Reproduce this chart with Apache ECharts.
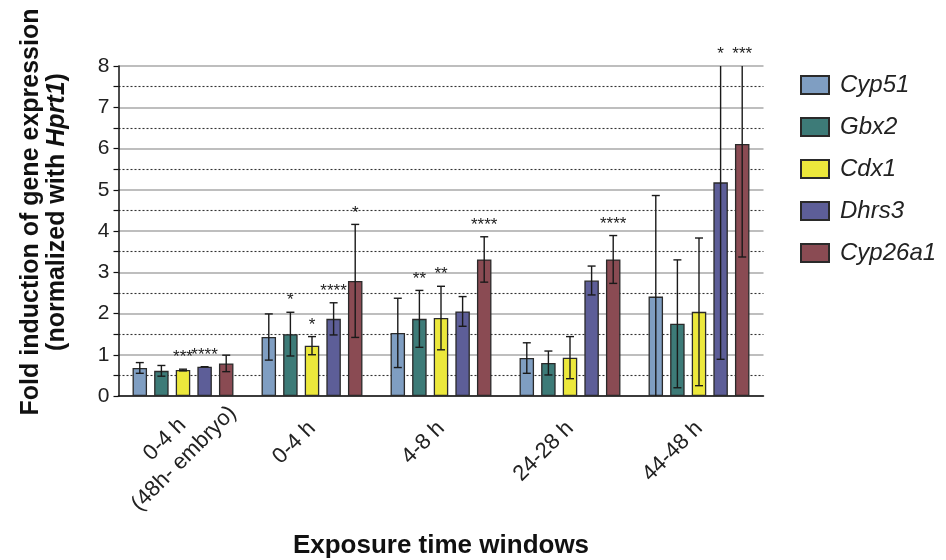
<!DOCTYPE html>
<html><head><meta charset="utf-8">
<script src="https://cdn.jsdelivr.net/npm/echarts@6/dist/echarts.min.js"></script>
<style>html,body{margin:0;padding:0;background:#fff}#c{width:946px;height:560px}</style>
</head><body><div id="c"></div>
<script>
var categories = ['0-4 h\n(48h- embryo)', '0-4 h', '4-8 h', '24-28 h', '44-48 h'];
var genes = ['Cyp51', 'Gbx2', 'Cdx1', 'Dhrs3', 'Cyp26a1'];
var yTicks = [0, 1, 2, 3, 4, 5, 6, 7, 8];

var cyp51Mean   = [0.68, 1.43, 1.53, 0.92, 2.41];
var cyp51Err    = [0.13, 0.56, 0.84, 0.37, 2.45];
var cyp51Stars  = ['', '', '', '', ''];

var gbx2Mean    = [0.61, 1.50, 1.87, 0.80, 1.75];
var gbx2Err     = [0.13, 0.53, 0.69, 0.29, 1.55];
var gbx2Stars   = ['', '*', '**', '', ''];

var cdx1Mean    = [0.63, 1.22, 1.89, 0.93, 2.04];
var cdx1Err     = [0.02, 0.22, 0.77, 0.51, 1.79];
var cdx1Stars   = ['***', '*', '**', '', ''];

var dhrs3Mean   = [0.71, 1.87, 2.05, 2.80, 5.18];
var dhrs3Err    = [0.00, 0.39, 0.36, 0.35, 4.29];
var dhrs3Stars  = ['****', '****', '', '', '*'];

var cyp26a1Mean = [0.79, 2.79, 3.31, 3.31, 6.11];
var cyp26a1Err  = [0.20, 1.37, 0.55, 0.58, 2.74];
var cyp26a1Stars= ['', '*', '****', '****', '***'];

var means = [cyp51Mean, gbx2Mean, cdx1Mean, dhrs3Mean, cyp26a1Mean];
var errs  = [cyp51Err, gbx2Err, cdx1Err, dhrs3Err, cyp26a1Err];
var stars = [cyp51Stars, gbx2Stars, cdx1Stars, dhrs3Stars, cyp26a1Stars];
var colors = ['#7f9ec2', '#3d7b78', '#ece83c', '#5d5e98', '#8a4b53'];

var FONT = '"Liberation Sans", Arial, Helvetica, sans-serif';
var BAR_W = 14.5, BAR_GAP = 0.49;
var PITCH = BAR_W * (1 + BAR_GAP);
var YMAX = yTicks[yTicks.length - 1];

var series = [];
genes.forEach(function (g, i) {
  series.push({
    name: g, type: 'bar', data: means[i], barWidth: BAR_W, barGap: (BAR_GAP * 100) + '%',
    itemStyle: { color: colors[i], borderColor: '#2a2a2a', borderWidth: 1.3 },
    emphasis: { disabled: true }, z: 2
  });
});
genes.forEach(function (g, i) {
  var d = means[i].map(function (m, k) { return [k, m, errs[i][k], stars[i][k]]; });
  series.push({
    type: 'custom', z: 5, clip: false, silent: true,
    data: d,
    renderItem: function (params, api) {
      var c = api.value(0), m = api.value(1), e = api.value(2);
      var st = d[params.dataIndex][3];
      var off = (i - 2) * PITCH;
      var hiV = Math.min(YMAX, m + e), loV = Math.max(0, m - e);
      var x = api.coord([c, m])[0] + off;
      var yHi = api.coord([c, hiV])[1], yLo = api.coord([c, loV])[1];
      var cap = 4;
      var ls = { stroke: '#1a1a1a', lineWidth: 1.4 };
      var kids = [];
      if (e > 0.005) {
        kids.push({ type: 'line', shape: { x1: x, y1: yHi, x2: x, y2: yLo }, style: ls });
        if (m + e <= YMAX) kids.push({ type: 'line', shape: { x1: x - cap, y1: yHi, x2: x + cap, y2: yHi }, style: ls });
        if (m - e >= 0) kids.push({ type: 'line', shape: { x1: x - cap, y1: yLo, x2: x + cap, y2: yLo }, style: ls });
      } else {
        var ym = api.coord([c, m])[1];
        kids.push({ type: 'line', shape: { x1: x - cap, y1: ym, x2: x + cap, y2: ym }, style: ls });
      }
      if (st) {
        kids.push({ type: 'text', x: x, y: yHi - 3,
          style: { text: st, fill: '#222', font: '17px ' + FONT, align: 'center', verticalAlign: 'bottom' } });
      }
      return { type: 'group', children: kids };
    }
  });
});

var xData = categories.map(function (c) {
  if (c.indexOf('\n') >= 0) {
    return { value: c, textStyle: { align: 'center', padding: [22, 46, 0, 0] } };
  }
  return c;
});

var chart = echarts.init(document.getElementById('c'), null, { renderer: 'canvas' });
chart.setOption({
  animation: false,
  backgroundColor: '#ffffff',
  textStyle: { fontFamily: FONT },
  grid: { left: 118.5, right: 182.5, top: 66, bottom: 164, containLabel: false, outerBoundsMode: 'none' },
  legend: {
    data: genes, orient: 'vertical', left: 795, top: 68,
    icon: 'rect', itemWidth: 28, itemHeight: 18, itemGap: 18,
    textStyle: { fontFamily: FONT, fontSize: 24, fontStyle: 'italic', color: '#222', padding: [0, 0, 0, 6] },
    selectedMode: false
  },
  xAxis: {
    type: 'category', data: xData,
    name: 'Exposure time windows', nameLocation: 'middle', nameGap: 137,
    nameTextStyle: { fontFamily: FONT, fontSize: 26, fontWeight: 'bold', color: '#111' },
    axisLine: { lineStyle: { color: '#111', width: 1.5 } },
    axisTick: { alignWithLabel: true, length: 6, lineStyle: { color: '#111', width: 1.3 } },
    axisLabel: {
      rotate: 45, margin: 29, interval: 0, color: '#222', fontSize: 22, fontFamily: FONT,
      formatter: function (v) { return v.split('\n').map(function (s) { return '{c|' + s + '}'; }).join('\n'); },
      rich: { c: { align: 'center', fontSize: 22, fontFamily: FONT, color: '#222', lineHeight: 27 } }
    }
  },
  yAxis: {
    type: 'value', min: yTicks[0], max: YMAX, interval: 1,
    axisLine: { show: true, lineStyle: { color: '#111', width: 1.5 } },
    axisTick: { show: true, length: 5, lineStyle: { color: '#111', width: 1.2 } },
    minorTick: { show: true, splitNumber: 2, length: 5, lineStyle: { color: '#111', width: 1.2 } },
    axisLabel: { color: '#222', fontSize: 21, fontFamily: FONT, margin: 9 },
    splitLine: { show: true, lineStyle: { color: '#a8a8a8', width: 1.5 } },
    minorSplitLine: { show: true, lineStyle: { color: '#333', width: 1.1, type: [2, 2] } }
  },
  graphic: [{
    type: 'text', x: 44, y: 212, rotation: Math.PI / 2,
    style: {
      text: '{b|Fold induction of gene expression}\n{b|(normalized with }{bi|Hprt1}{b|)}',
      align: 'center', verticalAlign: 'middle',
      rich: {
        b: { fontFamily: FONT, fontSize: 25, fontWeight: 'bold', fill: '#111', lineHeight: 26 },
        bi: { fontFamily: FONT, fontSize: 25, fontWeight: 'bold', fontStyle: 'italic', fill: '#111', lineHeight: 26 }
      }
    }
  }],
  series: series
});
</script>
</body></html>
